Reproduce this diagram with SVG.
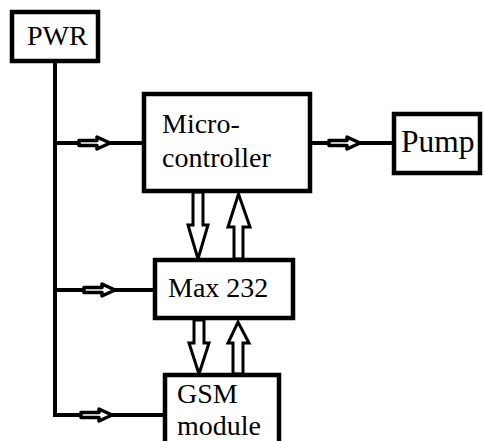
<svg xmlns="http://www.w3.org/2000/svg" width="485" height="441" viewBox="0 0 485 441">
<style>
.box{fill:#fff;stroke:#000;stroke-width:4.5}
.ln{fill:none;stroke:#000;stroke-width:4}
.arr{fill:#fff;stroke:#000;stroke-width:3;stroke-linejoin:miter}
.sarr{fill:#fff;stroke:#000;stroke-width:3.5;stroke-linejoin:round}
text{font-family:'Liberation Serif',serif;font-size:28px;fill:#000}
</style>
<defs>
<path id="sa" d="M-31,-2.5 L-13,-2.5 L-13,-6 L0,0 L-13,6 L-13,2.5 L-31,2.5 Z"/>
</defs>
<rect width="485" height="441" fill="#fff"/>
<g id="connectors">
<path class="ln" d="M55,61 V415 H165"/>
<path class="ln" d="M55,143 H144"/>
<path class="ln" d="M55,290 H155"/>
<path class="ln" d="M310,143 H394"/>
<use href="#sa" class="sarr" x="110" y="143"/>
<use href="#sa" class="sarr" x="360" y="143"/>
<use href="#sa" class="sarr" x="115" y="290"/>
<use href="#sa" class="sarr" x="112" y="415"/>
<path class="arr" d="M193,192 L203,192 L203,225 L208,225 L198,259 L188,225 L193,225 Z"/>
<path class="arr" d="M234,259 L243,259 L243,227 L250,227 L238.5,194 L228,227 L234,227 Z"/>
<path class="arr" d="M194,320 L204,320 L204,343 L209,343 L199,374 L189,343 L194,343 Z"/>
<path class="arr" d="M233,374 L243,374 L243,343 L249,343 L238,322 L228,343 L233,343 Z"/>
</g>
<g id="pwr">
<rect class="box" x="12" y="12" width="86" height="49"/>
<text font-family="Liberation Serif, serif" x="27" y="45">PWR</text>
</g>
<g id="micro">
<rect class="box" x="144" y="94" width="166" height="97"/>
<text font-family="Liberation Serif, serif" x="162" y="133">Micro-</text>
<text font-family="Liberation Serif, serif" x="162" y="167">controller</text>
</g>
<g id="pump">
<rect class="box" x="394" y="114" width="86" height="59"/>
<text font-family="Liberation Serif, serif" x="401" y="152" style="font-size:31.5px">Pump</text>
</g>
<g id="max232">
<rect class="box" x="155" y="260" width="138" height="58"/>
<text font-family="Liberation Serif, serif" x="168" y="297">Max 232</text>
</g>
<g id="gsm">
<rect class="box" x="165" y="375" width="114" height="80"/>
<text font-family="Liberation Serif, serif" x="177" y="403">GSM</text>
<text font-family="Liberation Serif, serif" x="177" y="435">module</text>
</g>
</svg>
